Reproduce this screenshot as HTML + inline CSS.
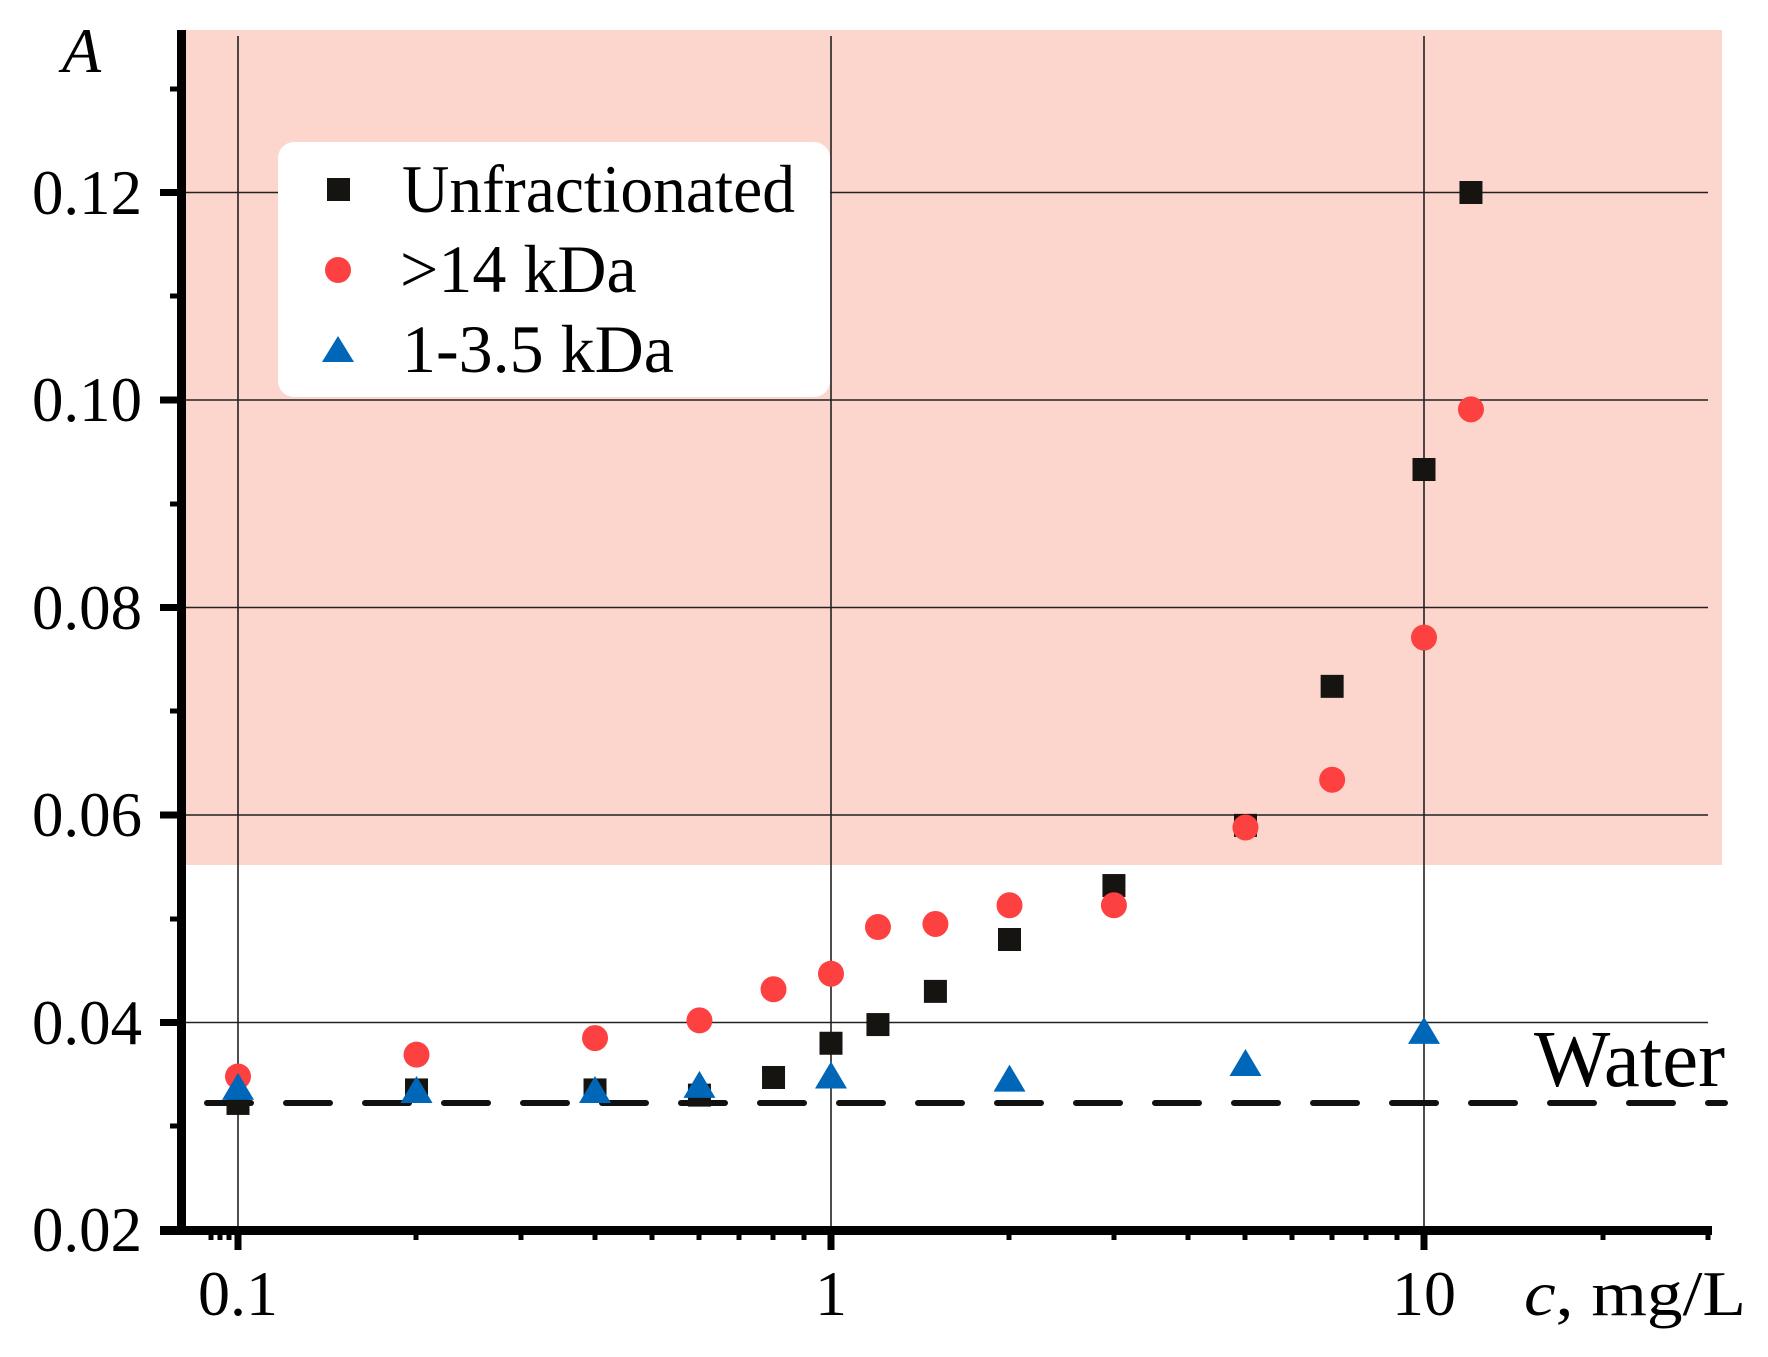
<!DOCTYPE html>
<html><head><meta charset="utf-8"><style>html,body{margin:0;padding:0;background:#fff}svg{display:block}</style></head>
<body>
<svg width="1768" height="1357" viewBox="0 0 1768 1357" xmlns="http://www.w3.org/2000/svg" font-family="'Liberation Serif', serif">
<rect width="1768" height="1357" fill="#fff"/>
<rect x="181" y="30" width="1541" height="835" fill="#fcd5cc"/>
<g stroke="#222" stroke-width="1.6">
<line x1="238" y1="36" x2="238" y2="1230"/>
<line x1="831" y1="36" x2="831" y2="1230"/>
<line x1="1424" y1="36" x2="1424" y2="1230"/>
<line x1="181" y1="192.5" x2="1708" y2="192.5"/>
<line x1="181" y1="400" x2="1708" y2="400"/>
<line x1="181" y1="607.5" x2="1708" y2="607.5"/>
<line x1="181" y1="815" x2="1708" y2="815"/>
<line x1="181" y1="1022.5" x2="1708" y2="1022.5"/>
</g>
<rect x="278" y="142" width="552" height="255" rx="16" fill="#fff"/>
<line x1="207" y1="1103" x2="1725" y2="1103" stroke="#111" stroke-width="6" stroke-dasharray="44 35" stroke-linecap="round"/>
<g fill="#000">
<rect x="177" y="30" width="9" height="1205"/>
<rect x="160" y="1226" width="1552" height="9"/>
</g>
<g stroke="#000" stroke-width="7">
<line x1="160" y1="192.5" x2="180" y2="192.5"/><line x1="160" y1="400" x2="180" y2="400"/>
<line x1="160" y1="607.5" x2="180" y2="607.5"/><line x1="160" y1="815" x2="180" y2="815"/>
<line x1="160" y1="1022.5" x2="180" y2="1022.5"/>
<line x1="238" y1="1230" x2="238" y2="1250"/><line x1="831" y1="1230" x2="831" y2="1250"/><line x1="1424" y1="1230" x2="1424" y2="1250"/>
</g>
<g stroke="#000" stroke-width="5">
<line x1="170" y1="89" x2="180" y2="89"/><line x1="170" y1="296" x2="180" y2="296"/>
<line x1="170" y1="504" x2="180" y2="504"/><line x1="170" y1="711" x2="180" y2="711"/>
<line x1="170" y1="919" x2="180" y2="919"/><line x1="170" y1="1126" x2="180" y2="1126"/>
<line x1="211" y1="1230" x2="211" y2="1240"/>
<line x1="220" y1="1230" x2="220" y2="1240"/>
<line x1="229" y1="1230" x2="229" y2="1240"/>
<line x1="416" y1="1230" x2="416" y2="1240"/><line x1="521" y1="1230" x2="521" y2="1240"/><line x1="595" y1="1230" x2="595" y2="1240"/><line x1="652" y1="1230" x2="652" y2="1240"/><line x1="699" y1="1230" x2="699" y2="1240"/><line x1="739" y1="1230" x2="739" y2="1240"/><line x1="773" y1="1230" x2="773" y2="1240"/><line x1="804" y1="1230" x2="804" y2="1240"/>
<line x1="1009" y1="1230" x2="1009" y2="1240"/><line x1="1114" y1="1230" x2="1114" y2="1240"/><line x1="1188" y1="1230" x2="1188" y2="1240"/><line x1="1245" y1="1230" x2="1245" y2="1240"/><line x1="1292" y1="1230" x2="1292" y2="1240"/><line x1="1332" y1="1230" x2="1332" y2="1240"/><line x1="1366" y1="1230" x2="1366" y2="1240"/><line x1="1397" y1="1230" x2="1397" y2="1240"/>
<line x1="1603" y1="1230" x2="1603" y2="1240"/><line x1="1708" y1="1230" x2="1708" y2="1240"/>
</g>
<g font-size="64" fill="#000">
<text x="32" y="214" textLength="110" lengthAdjust="spacingAndGlyphs">0.12</text>
<text x="32" y="421" textLength="110" lengthAdjust="spacingAndGlyphs">0.10</text>
<text x="32" y="629" textLength="110" lengthAdjust="spacingAndGlyphs">0.08</text>
<text x="32" y="836" textLength="110" lengthAdjust="spacingAndGlyphs">0.06</text>
<text x="32" y="1044" textLength="110" lengthAdjust="spacingAndGlyphs">0.04</text>
<text x="32" y="1251" textLength="110" lengthAdjust="spacingAndGlyphs">0.02</text>
<text x="238" y="1315" text-anchor="middle">0.1</text>
<text x="831" y="1315" text-anchor="middle">1</text>
<text x="1424" y="1315" text-anchor="middle">10</text>
<text x="1524" y="1315" textLength="222" lengthAdjust="spacingAndGlyphs"><tspan font-style="italic">c</tspan>, mg/L</text>
<text x="62" y="72" font-style="italic">A</text>
<text x="1534" y="1086" font-size="80" textLength="191" lengthAdjust="spacingAndGlyphs">Water</text>
</g>
<g font-size="68" fill="#000">
<text x="402" y="212" textLength="393" lengthAdjust="spacingAndGlyphs">Unfractionated</text>
<text x="400" y="292">&gt;14 kDa</text>
<text x="402" y="372">1-3.5 kDa</text>
</g>
<rect x="327" y="178" width="23" height="23" fill="#161410"/>
<circle cx="338" cy="270" r="13" fill="#fd4040"/>
<polygon points="338,336 322,362 354,362" fill="#0066b8"/>
<script>
const X=c=>831+593*Math.log10(c), Y=v=>1230-(v-0.02)/0.02*207.5;
const sq=[[0.1,.0322],[0.2,.0335],[0.4,.0335],[0.6,.033],[0.8,.0347],[1,.038],[1.2,.0398],[1.5,.043],[2,.048],[3,.0532],[5,.059],[7,.0724],[10,.0933],[12,.12]];
const rd=[[0.1,.0348],[0.2,.0369],[0.4,.0385],[0.6,.0402],[0.8,.0432],[1,.0447],[1.2,.0492],[1.5,.0495],[2,.0513],[3,.0513],[5,.0588],[7,.0634],[10,.0771],[12,.0991]];
const bl=[[0.1,.0336],[0.2,.0333],[0.4,.0333],[0.6,.0338],[1,.0347],[2,.0344],[5,.0359],[10,.039]];
const ns="http://www.w3.org/2000/svg",svg=document.querySelector('svg');
function el(t,a){const e=document.createElementNS(ns,t);for(const k in a)e.setAttribute(k,a[k]);svg.appendChild(e);}
sq.forEach(([c,v])=>el('rect',{x:X(c)-11.5,y:Y(v)-11.5,width:23,height:23,fill:'#161410'}));
rd.forEach(([c,v])=>el('circle',{cx:X(c),cy:Y(v),r:13,fill:'#fd4040'}));
bl.forEach(([c,v])=>{const x=X(c),y=Y(v);el('polygon',{points:`${x},${y-16} ${x-16},${y+11} ${x+16},${y+11}`,fill:'#0066b8'});});
</script>
</svg>
</body></html>
